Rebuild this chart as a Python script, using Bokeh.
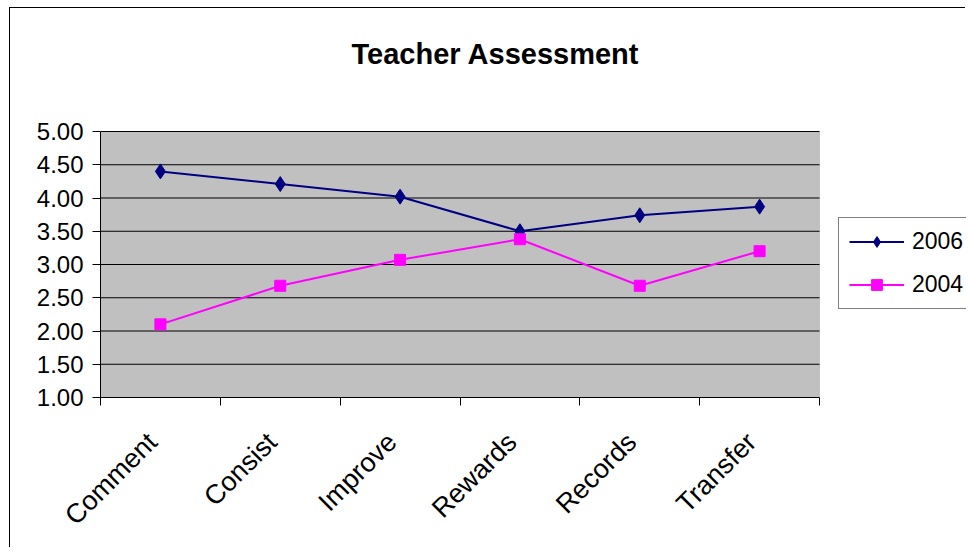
from math import pi
from bokeh.plotting import figure
from bokeh.models import (FixedTicker, NumeralTickFormatter, Legend, LegendItem,
                          Label, Range1d, BoxAnnotation)
from bokeh.embed import file_html
from bokeh.resources import INLINE

# ---- data ----
categories = ["Comment", "Consist", "Improve", "Rewards", "Records", "Transfer"]
series_2006 = [4.40, 4.21, 4.02, 3.50, 3.74, 3.87]
series_2004 = [2.10, 2.68, 3.07, 3.38, 2.68, 3.20]
series_names = ["2006", "2004"]
y_ticks = [1.0, 1.5, 2.0, 2.5, 3.0, 3.5, 4.0, 4.5, 5.0]
title_text = "Teacher Assessment"

FONT = "Liberation Sans"
n = len(categories)
x_pos = [i + 0.5 for i in range(n)]

# ---- layout (pixels) ----
FIG_W, FIG_H = 956, 540
LEFT, BOTTOM = 90, 151           # axis areas
PLOT_W, PLOT_H = 719, 266        # grey plotting area
TOP_GAP = 123                    # space above grey area (title lives here)
LABEL_SHIFT_PX = 8               # category labels sit slightly left of centre
frame_w = FIG_W - LEFT
y0, y1 = y_ticks[0], y_ticks[-1]
x_end = n * frame_w / PLOT_W
y_end = y1 + TOP_GAP * (y1 - y0) / PLOT_H
px_x = n / PLOT_W
px_y = (y1 - y0) / PLOT_H

p = figure(width=FIG_W, height=FIG_H, output_backend="svg", toolbar_location=None,
           x_range=Range1d(0, x_end), y_range=Range1d(y0, y_end),
           min_border_left=LEFT, min_border_top=0, min_border_right=0,
           min_border_bottom=BOTTOM)
p.styles = {"margin-left": "9px", "margin-top": "7px",
            "border-left": "1px solid black", "border-top": "1px solid black"}

p.background_fill_color = "white"
p.border_fill_color = "white"
p.outline_line_color = None

# grey plotting area
p.add_layout(BoxAnnotation(left=0, right=n, bottom=y0, top=y1, level="underlay",
                           fill_color="#C0C0C0", fill_alpha=1,
                           line_color="#808080", line_width=1))
# horizontal gridlines
p.segment(x0=[0] * (len(y_ticks) - 1), x1=[n] * (len(y_ticks) - 1),
          y0=y_ticks[1:], y1=y_ticks[1:], line_color="black", line_width=1)
p.xgrid.visible = False
p.ygrid.visible = False

# x axis: tick marks between categories, labels near category centres
label_ticks = [xv - LABEL_SHIFT_PX * px_x for xv in x_pos]
xa = p.xaxis[0]
xa.bounds = (0, n)
xa.ticker = FixedTicker(ticks=label_ticks, minor_ticks=list(range(n + 1)))
xa.major_label_overrides = {t: c for t, c in zip(label_ticks, categories)}
xa.major_tick_in = 0
xa.major_tick_out = 0
xa.minor_tick_in = 0
xa.minor_tick_out = 8
xa.minor_tick_line_color = "black"
xa.axis_line_color = "black"
xa.major_label_orientation = pi / 4
xa.major_label_standoff = 32
xa.major_label_text_font = FONT
xa.major_label_text_font_size = "27px"
xa.major_label_text_color = "black"

ya = p.yaxis[0]
ya.bounds = (y0, y1)
ya.ticker = FixedTicker(ticks=y_ticks)
ya.formatter = NumeralTickFormatter(format="0.00")
ya.major_tick_in = 0
ya.major_tick_out = 8
ya.minor_tick_line_color = None
ya.axis_line_color = "black"
ya.major_tick_line_color = "black"
ya.major_label_standoff = 9
ya.major_label_text_font = FONT
ya.major_label_text_font_size = "24px"
ya.major_label_text_color = "black"

l06 = p.line(x_pos, series_2006, line_color="#000080", line_width=2)
m06 = p.scatter(x_pos, series_2006, marker="diamond", size=15,
                fill_color="#000080", line_color="#000080")
l04 = p.line(x_pos, series_2004, line_color="#FF00FF", line_width=2)
m04 = p.scatter(x_pos, series_2004, marker="square", size=11,
                fill_color="#FF00FF", line_color="#FF00FF")

legend = Legend(items=[LegendItem(label=series_names[0], renderers=[l06, m06]),
                       LegendItem(label=series_names[1], renderers=[l04, m04])],
                location=(738, 88), orientation="vertical",
                glyph_width=55, glyph_height=27, label_height=27,
                label_standoff=8, spacing=16, padding=10, margin=0,
                label_text_font=FONT, label_text_font_size="23px",
                label_text_color="black",
                border_line_color="black", border_line_width=1,
                background_fill_color="white", background_fill_alpha=1)
p.add_layout(legend, "center")

# title, centred over the whole chart
title = Label(x=(485 - LEFT) * px_x, y=y_end - 45 * px_y,
              text=title_text, text_align="center", text_baseline="alphabetic",
              text_font=FONT, text_font_size="29px", text_font_style="bold",
              text_color="black")
p.add_layout(title)

open("out.html", "w").write(file_html(p, INLINE))
